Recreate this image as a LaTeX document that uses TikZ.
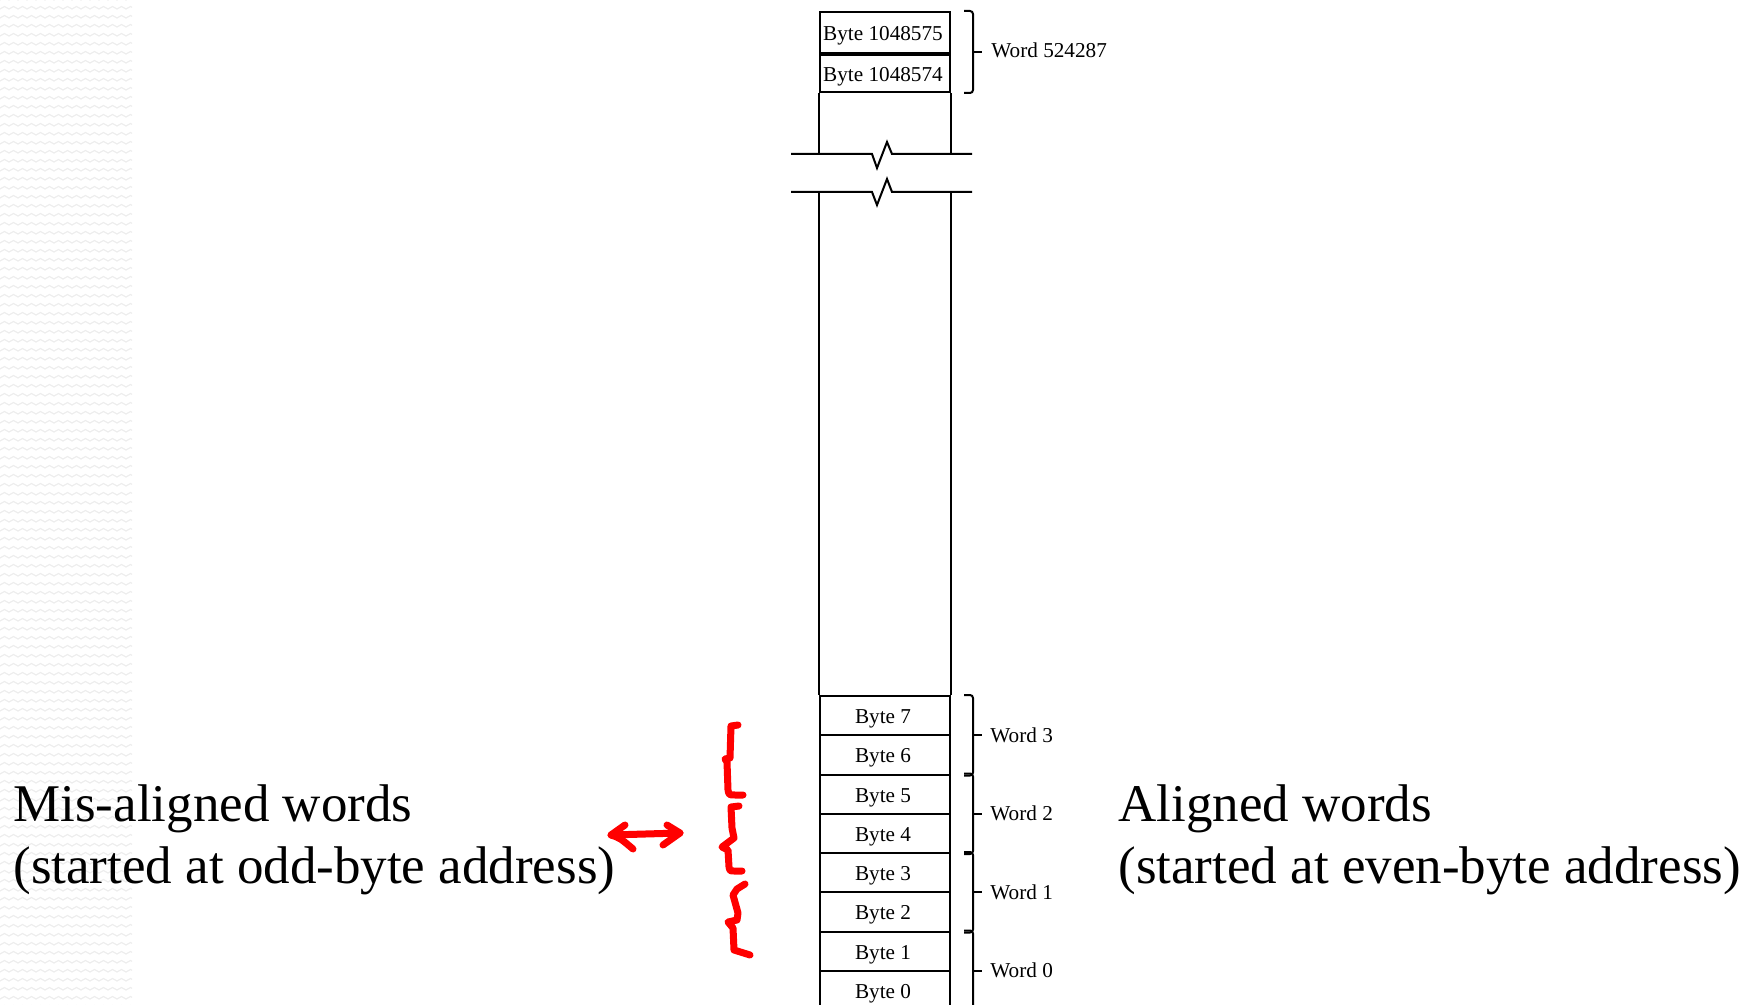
\documentclass[tikz,border=0pt]{standalone}
\usepackage{fontspec}
\setmainfont{Liberation Serif}
\usetikzlibrary{calc}
\begin{document}
\begin{tikzpicture}[x=0.5pt,y=-0.5pt,
  cell/.style={draw=black, line width=1pt, minimum width=65pt, minimum height=19.625pt,
    inner sep=0pt, text height=8pt, text depth=0pt, font=\fontsize{10.6}{12}\selectfont,
    execute at begin node=\kern-2pt},
  col/.style={line width=1pt, black},
  brk/.style={line width=1pt, black, rounded corners=1.5pt},
  wordlbl/.style={inner sep=0pt, font=\fontsize{10.6}{12}\selectfont},
  big/.style={inner sep=0pt, font=\fontsize{26.5}{31}\selectfont},
  redink/.style={red, line width=3.5pt, line cap=round, line join=round},
  pat/.style={black!7, line width=0.6pt}]
\useasboundingbox (0,0) rectangle (1756,1005);

% faint textured strip on the left edge
\begin{scope}
  \clip (0,0) rectangle (132,1005);
  \foreach \r in {0,...,112} {
    \draw[pat] (0,\r*9) \foreach \k in {0,...,15} { -- ++(4.5,-2.5) -- ++(4.5,2.5) };
  }
\end{scope}

% top of memory
\node[cell, minimum height=20.5pt, anchor=north west] (bt1) at (819,11) {Byte 1048575};
\node[cell, minimum height=18.5pt, anchor=north west] (bt0) at (bt1.south west) {Byte 1048574};

% break marks
\coordinate (brkA) at (791,154);
\coordinate (brkB) at (791,192);
\draw[col] (brkA) -- (872,154) -- (877,168) -- (887,142) -- (892,154) -- (972,154);
\draw[col] (brkB) -- (872,192) -- (877,205) -- (887,179) -- (892,192) -- (972,192);
\draw[col] (bt0.south west) -- (bt0.south west |- brkA);
\draw[col] (bt0.south east) -- (bt0.south east |- brkA);

% bottom of memory
\foreach \k in {7,...,0} {
  \node[cell, anchor=north west] (b\k) at (819,{695+(7-\k)*39.25}) {Byte \k};
}
\draw[col] (b7.north west |- brkB) -- (b7.north west);
\draw[col] (b7.north east |- brkB) -- (b7.north east);

% word brackets
\draw[brk] ([xshift=6.5pt]bt1.north east) -- ([xshift=11pt]bt1.north east)
  -- ([xshift=11pt]bt0.south east) -- ([xshift=6.5pt]bt0.south east);
\coordinate (mt) at ($(bt1.north east)!0.5!(bt0.south east)$);
\draw[brk] ([xshift=11pt]mt) -- ([xshift=15.5pt]mt);
\node[wordlbl, anchor=base west] (wt) at ([xshift=20pt, yshift=-3pt]mt) {Word 524287};

\foreach \w/\hi/\lo in {3/7/6, 2/5/4, 1/3/2, 0/1/0} {
  \draw[brk] ([xshift=6.5pt]b\hi.north east) -- ([xshift=11pt]b\hi.north east)
    -- ([xshift=11pt]b\lo.south east) -- ([xshift=6.5pt]b\lo.south east);
  \coordinate (m\w) at ($(b\hi.north east)!0.5!(b\lo.south east)$);
  \draw[brk] ([xshift=11pt]m\w) -- ([xshift=15.5pt]m\w);
  \node[wordlbl, anchor=base west] (w\w) at ([xshift=19.5pt, yshift=-3.5pt]m\w) {Word \w};
}

% captions
\node[big, anchor=base west] (mis1) at (13,821) {Mis-aligned words};
\node[big, anchor=base west] (mis2) at (13,883) {(started at odd-byte address)};
\node[big, anchor=base west] (al1) at (1118,821) {Aligned words};
\node[big, anchor=base west] (al2) at (1118,883) {(started at even-byte address)};

% hand-drawn red marks
\draw[redink] (738,725) -- (731,726) -- (730,758) -- (725,759) -- (727,762) -- (728,790)
  .. controls (729,795) .. (735,795) -- (743,795);
\draw[redink] (739,806) -- (731,807) -- (732,828) -- (734,838) -- (722,847) -- (728,850)
  -- (729,867) .. controls (730,871) .. (734,871) -- (742,871);
\draw[redink] (745,884) -- (737,889) -- (733,895) -- (738,913) -- (737,920) -- (728,922)
  -- (733,928) -- (734,950) -- (750,955);
\coordinate (arL) at (611,835);
\coordinate (arR) at (680,833);
\draw[redink] (arL) -- (arR);
\draw[redink] (625,825) -- (arL) .. controls (620,838) .. (633,849);
\draw[redink] (667,825) -- (arR) -- (663,845);
\end{tikzpicture}
\end{document}
